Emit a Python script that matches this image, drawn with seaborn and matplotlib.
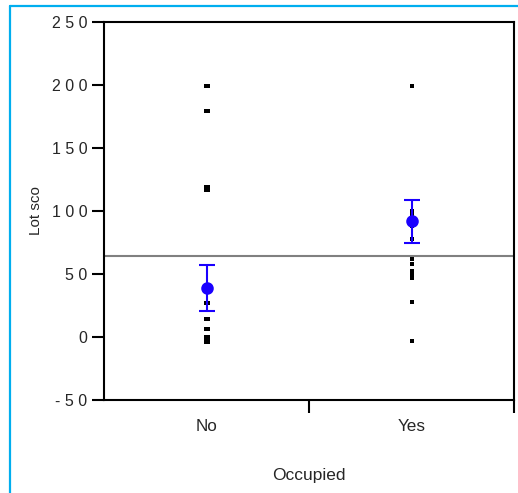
import numpy as np
import pandas as pd
import matplotlib
matplotlib.use('Agg')
import matplotlib.pyplot as plt
import seaborn as sns
from matplotlib.lines import Line2D

# ---- data ----
categories = ['No', 'Yes']
no_values = [199, 179, 119, 117, 27, 14, 6, 0, -2, -4]
yes_values = [199, 100, 97, 94, 91, 88, 78, 62, 58, 52, 49, 47, 28, -3]
means = [39, 92]
ci_low = [21, 75]
ci_high = [57, 109]
reference_line = 64
y_ticks = [-50, 0, 50, 100, 150, 200, 250]
y_tick_labels = ['- 5 0', '0', '5 0', '1 0 0', '1 5 0', '2 0 0', '2 5 0']
x_label = 'Occupied'
y_label = 'Lot sco'

sns.set_style('ticks')
plt.rcParams['font.family'] = ['Liberation Sans', 'DejaVu Sans']

df_no = pd.DataFrame({'Occupied': 'No', 'val': no_values})
df_yes = pd.DataFrame({'Occupied': 'Yes', 'val': yes_values})

fig = plt.figure(figsize=(5.18, 4.93), dpi=100)
ax = fig.add_axes([0.2008, 0.1886, 0.9923 - 0.2008, 0.9554 - 0.1886])

wide_dash = [(-1, -0.6), (1, -0.6), (1, 0.6), (-1, 0.6)]
tall_dash = [(-0.38, -0.5), (0.38, -0.5), (0.38, 0.5), (-0.38, 0.5)]
sns.stripplot(data=df_no, x='Occupied', y='val', order=categories, jitter=False,
              marker=wide_dash, s=4.5, color='black', linewidth=0, ax=ax, zorder=3)
sns.stripplot(data=df_yes, x='Occupied', y='val', order=categories, jitter=False,
              marker=tall_dash, s=3.4, color='black', linewidth=0, ax=ax, zorder=3)

ax.axhline(reference_line, color='#808080', lw=1.5, zorder=2)

pos = np.arange(len(categories))
means_a = np.array(means)
yerr = np.vstack([means_a - np.array(ci_low), np.array(ci_high) - means_a])
ax.errorbar(pos, means_a, yerr=yerr, fmt='none', ecolor='#1a00ff', elinewidth=1.5,
            capsize=6, capthick=1.5, zorder=4)
sns.pointplot(x=categories, y=means, order=categories, errorbar=None, linestyle='none',
              color='#1a00ff', markers='o', markersize=7, ax=ax, zorder=5)

ax.set_xlim(-0.5, 1.5)
ax.set_ylim(-50, 250)

ax.set_yticks(y_ticks)
ax.set_yticklabels(y_tick_labels, fontsize=11.5)
ax.tick_params(axis='y', direction='out', length=9, width=1.5, pad=3, color='black')

ax.set_xticks([0.5, 1.5])
ax.set_xticklabels(['', ''])
ax.set_xticks(pos, minor=True)
ax.set_xticklabels(categories, minor=True, fontsize=12.3)
ax.tick_params(axis='x', which='major', direction='out', length=9, width=1.5, color='black')
ax.tick_params(axis='x', which='minor', length=0, pad=14)

for sp in ax.spines.values():
    sp.set_visible(True)
    sp.set_linewidth(1.5)
    sp.set_color('black')

ax.set_xlabel(x_label, fontsize=12.5, labelpad=24)
ax.set_ylabel(y_label, fontsize=11)
ax.yaxis.set_label_coords(-0.15, 0.5)

blue = '#00AEEF'
fig.add_artist(Line2D([9.5 / 518, 9.5 / 518], [0, 1 - 5.5 / 493], transform=fig.transFigure,
                      color=blue, lw=1.6))
fig.add_artist(Line2D([9.5 / 518, 1], [1 - 5.5 / 493, 1 - 5.5 / 493], transform=fig.transFigure,
                      color=blue, lw=1.6))

fig.savefig('out.png', dpi=100)
